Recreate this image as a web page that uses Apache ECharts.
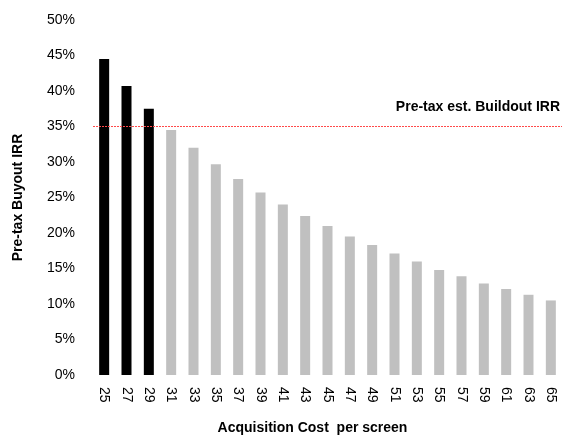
<!DOCTYPE html>
<html>
<head>
<meta charset="utf-8">
<script src="https://cdn.jsdelivr.net/npm/echarts@6/dist/echarts.min.js"></script>
<style>
  html, body { margin: 0; padding: 0; background: #fff; }
  #chart { width: 563px; height: 437px; }
</style>
</head>
<body>
<div id="chart"></div>
<script>
// Acquisition cost per screen (x categories)
const costs = ['25','27','29','31','33','35','37','39','41','43','45','47','49','51','53','55','57','59','61','63','65'];
// Pre-tax buyout IRR, in percent
const irr = [44.5, 40.7, 37.5, 34.5, 32.0, 29.7, 27.6, 25.7, 24.0, 22.4, 21.0, 19.5, 18.3, 17.1, 16.0, 14.8, 13.9, 12.9, 12.1, 11.3, 10.5];
// Pre-tax estimated buildout IRR threshold, in percent
const buildoutIrr = 35;
const yTicks = { min: 0, max: 50, interval: 5 };

const fontFamily = "'Liberation Sans', 'Open Sans', sans-serif";
const refLine = { color: '#ff4a4a', type: [2, 1], width: 1 };

const chart = echarts.init(document.getElementById('chart'), null, { renderer: 'canvas' });
chart.setOption({
  animation: false,
  backgroundColor: '#ffffff',
  grid: { left: 93, right: 1, top: 20, bottom: 62, outerBoundsMode: 'none', containLabel: false },
  xAxis: {
    type: 'category',
    data: costs,
    name: 'Acquisition Cost  per screen',
    nameLocation: 'middle',
    nameGap: 46,
    nameTextStyle: { fontFamily, fontSize: 14, fontWeight: 'bold', color: '#000', padding: [0, 30, 0, 0] },
    axisLine: { show: false },
    axisTick: { show: false },
    axisLabel: { rotate: -90, margin: 12, fontFamily, fontSize: 14, color: '#000' }
  },
  yAxis: {
    type: 'value',
    min: yTicks.min,
    max: yTicks.max,
    interval: yTicks.interval,
    name: 'Pre-tax Buyout IRR',
    nameLocation: 'middle',
    nameGap: 68,
    nameTextStyle: { fontFamily, fontSize: 14, fontWeight: 'bold', color: '#000' },
    axisLine: { show: false },
    axisTick: { show: false },
    splitLine: { show: false },
    axisLabel: { formatter: '{value}%', margin: 18, fontFamily, fontSize: 14, color: '#000' }
  },
  series: [{
    type: 'bar',
    data: irr.map(v => ({ value: v, itemStyle: { color: v > buildoutIrr ? '#000000' : '#c0c0c0' } })),
    barWidth: 10,
    markLine: {
      silent: true,
      symbol: 'none',
      data: [{ yAxis: buildoutIrr, lineStyle: refLine }],
      lineStyle: refLine,
      label: {
        position: 'insideEndTop',
        formatter: 'Pre-tax est. Buildout IRR',
        fontFamily,
        fontSize: 14,
        fontWeight: 'bold',
        color: '#000',
        distance: [2, 12]
      }
    }
  }]
});
</script>
</body>
</html>
